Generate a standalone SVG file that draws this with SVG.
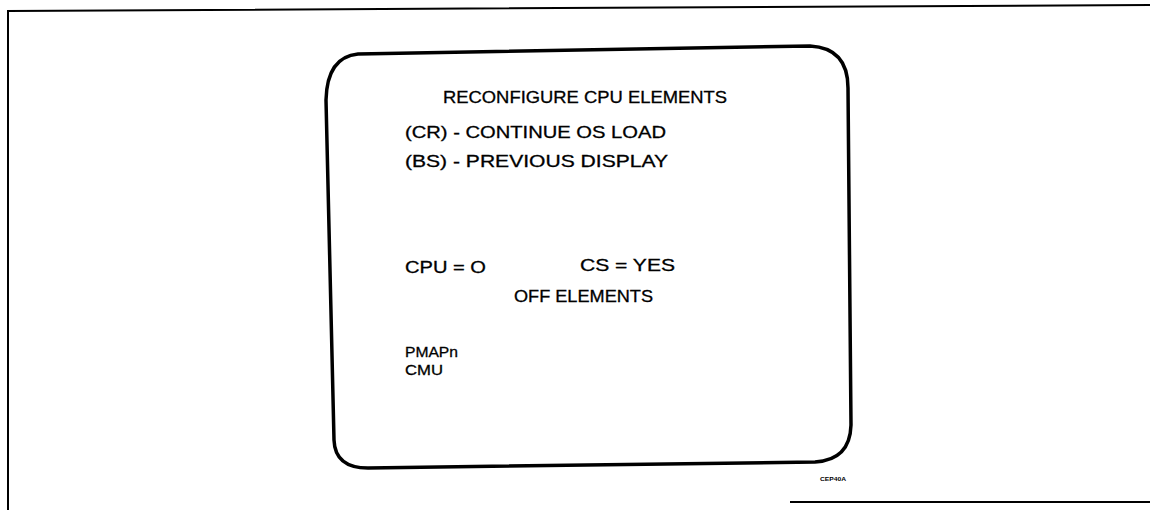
<svg xmlns="http://www.w3.org/2000/svg" width="1150" height="510" viewBox="0 0 1150 510">
<style>
.frame{fill:none;stroke:#000;stroke-width:2}
.screen{fill:none;stroke:#000;stroke-width:3.5;stroke-linejoin:round}
.t{font-family:"Liberation Sans","DejaVu Sans",sans-serif;font-size:17px;fill:#000;stroke:#000;stroke-width:0.3}
.u{font-family:"Liberation Sans","DejaVu Sans",sans-serif;font-size:15px;fill:#000;stroke:#000;stroke-width:0.3}
.s{font-family:"Liberation Sans","DejaVu Sans",sans-serif;font-size:6px;font-weight:bold;fill:#000}
</style>
<rect width="1150" height="510" fill="#fff"/>
<g id="frame">
<path class="frame" d="M8,510 L8,11 L1150,5"/>
<path class="frame" d="M790,502 L1150,502"/>
</g>
<g id="screen">
<path class="screen" d="M326,100 Q327,57 358,54 L810,46 Q848,48 848,88 L851,425 Q850,460 815,462 L368,468 Q335,468 334,440 Z"/>
</g>
<g id="texts">
<text class="t" x="443" y="103" textLength="284" lengthAdjust="spacingAndGlyphs">RECONFIGURE CPU ELEMENTS</text>
<text class="t" x="405" y="138" textLength="261" lengthAdjust="spacingAndGlyphs">(CR) - CONTINUE OS LOAD</text>
<text class="t" x="405" y="167" textLength="263" lengthAdjust="spacingAndGlyphs">(BS) - PREVIOUS DISPLAY</text>
<text class="t" x="405" y="273" textLength="81" lengthAdjust="spacingAndGlyphs">CPU = O</text>
<text class="t" x="580" y="271" textLength="95" lengthAdjust="spacingAndGlyphs">CS = YES</text>
<text class="t" x="514" y="302" textLength="139" lengthAdjust="spacingAndGlyphs">OFF ELEMENTS</text>
<text class="u" x="405" y="357" textLength="53" lengthAdjust="spacingAndGlyphs">PMAPn</text>
<text class="u" x="405" y="375" textLength="38" lengthAdjust="spacingAndGlyphs">CMU</text>
<text class="s" x="820" y="481" textLength="26" lengthAdjust="spacingAndGlyphs">CEP40A</text>
</g>
</svg>
